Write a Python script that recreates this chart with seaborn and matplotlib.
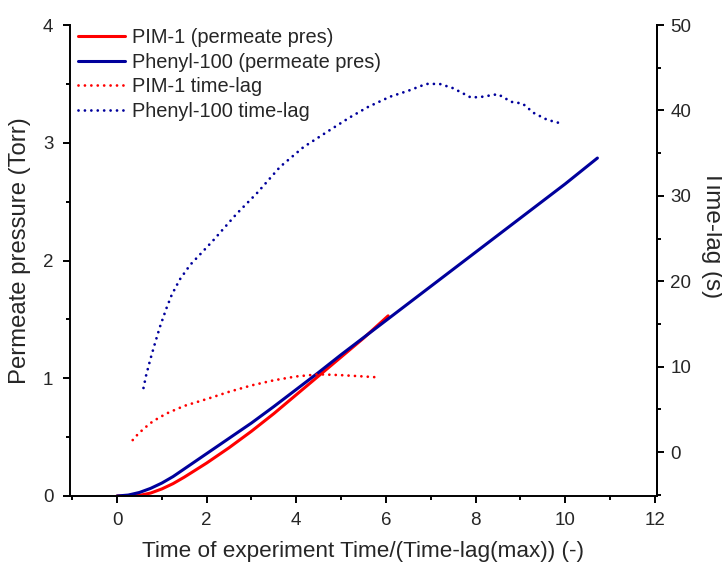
import matplotlib
matplotlib.use("Agg")
import matplotlib.pyplot as plt
import seaborn as sns
import pandas as pd
from matplotlib.ticker import MultipleLocator

# ---- data ----
pim_x = [0.0, 0.25, 0.5, 0.75, 1.0, 1.25, 1.5, 1.75, 2.0, 2.5, 3.0, 3.5, 4.0, 4.5, 5.0, 5.5, 6.05]
pim_p = [0.0, 0.0, 0.005, 0.025, 0.06, 0.105, 0.16, 0.22, 0.28, 0.41, 0.55, 0.70, 0.86, 1.02, 1.18, 1.34, 1.53]

phe_x = [0.0, 0.25, 0.5, 0.75, 1.0, 1.25, 1.5, 1.75, 2.0, 2.5, 3.0, 3.5, 4.0, 4.5, 5.0, 6.0, 7.0, 8.0, 9.0, 10.0, 10.72]
phe_p = [0.0, 0.008, 0.03, 0.065, 0.11, 0.165, 0.23, 0.295, 0.36, 0.49, 0.62, 0.76, 0.905, 1.05, 1.2, 1.49, 1.78, 2.07, 2.36, 2.65, 2.87]

pim_lag_x = [0.35, 0.45, 0.6, 0.8, 1.1, 1.5, 2.0, 2.5, 3.0, 3.5, 4.0, 4.5, 5.0, 5.5, 5.8]
pim_lag = [1.4, 2.0, 2.75, 3.6, 4.5, 5.4, 6.2, 7.05, 7.8, 8.4, 8.85, 9.1, 9.0, 8.85, 8.75]

phe_lag_x = [0.59, 0.65, 0.74, 0.85, 0.96, 1.1, 1.22, 1.4, 1.63, 1.9, 2.15, 2.67, 3.12, 3.64, 4.16,
             4.75, 5.2, 5.6, 6.09, 6.5, 6.9, 7.2, 7.5, 7.9, 8.15, 8.5, 8.8, 9.05, 9.3, 9.6, 9.96]
phe_lag = [7.5, 9.0, 10.8, 12.8, 14.7, 16.8, 18.4, 20.2, 21.9, 23.4, 24.8, 27.9, 30.3, 33.4, 35.7,
           37.7, 39.2, 40.4, 41.6, 42.3, 43.1, 43.1, 42.6, 41.5, 41.6, 41.9, 41.0, 40.8, 39.7, 38.9, 38.4]

labels = ["PIM-1 (permeate pres)", "Phenyl-100 (permeate pres)",
          "PIM-1 time-lag", "Phenyl-100 time-lag"]
x_ticks = [0, 2, 4, 6, 8, 10, 12]
y_ticks = [0, 1, 2, 3, 4]
y2_ticks = [0, 10, 20, 30, 40, 50]

RED = "#ff0000"
BLUE = "#00009c"

sns.set_theme(style="ticks")
plt.rcParams["font.family"] = ["Liberation Sans", "DejaVu Sans"]

fig = plt.figure(figsize=(7.22, 5.70), dpi=100)
ax = fig.add_axes([70 / 722, 1 - 496 / 570, (657 - 70) / 722, (496 - 25) / 570])
ax2 = ax.twinx()

df_pim = pd.DataFrame({"x": pim_x, "y": pim_p})
df_phe = pd.DataFrame({"x": phe_x, "y": phe_p})
df_pim_lag = pd.DataFrame({"x": pim_lag_x, "y": pim_lag})
df_phe_lag = pd.DataFrame({"x": phe_lag_x, "y": phe_lag})

sns.lineplot(data=df_pim, x="x", y="y", ax=ax, color=RED, linewidth=2.2,
             label=labels[0], legend=False)
sns.lineplot(data=df_phe, x="x", y="y", ax=ax, color=BLUE, linewidth=2.2,
             label=labels[1], legend=False)
sns.lineplot(data=df_pim_lag, x="x", y="y", ax=ax2, color=RED, linewidth=2.0,
             label=labels[2], legend=False)
sns.lineplot(data=df_phe_lag, x="x", y="y", ax=ax2, color=BLUE, linewidth=2.0,
             label=labels[3], legend=False)

for ln in ax2.lines:
    ln.set_linestyle((0, (0.01, 2.3)))
    ln.set_dash_capstyle("round")

ax.set_xlim(-1.05, 12.05)
ax.set_ylim(0, 4)
ax2.set_ylim(-5.15, 50)

ax.set_xticks(x_ticks)
ax.set_yticks(y_ticks)
ax2.set_yticks(y2_ticks)
ax.xaxis.set_minor_locator(MultipleLocator(1))
ax.yaxis.set_minor_locator(MultipleLocator(0.5))
ax2.yaxis.set_minor_locator(MultipleLocator(5))

for a in (ax, ax2):
    a.spines["top"].set_visible(False)
    for s in a.spines.values():
        s.set_linewidth(1.4)
        s.set_color("black")
    a.tick_params(which="major", length=5, width=1.4, labelsize=13.5, color="black",
                  direction="out")
    a.tick_params(which="minor", length=3, width=1.4, color="black", direction="out")
    a.grid(False)
ax.tick_params(axis="x", which="major", pad=6.5)
ax.tick_params(axis="y", which="major", pad=7)
ax2.tick_params(axis="y", which="major", pad=4.5)
ax2.spines["left"].set_visible(False)
ax2.spines["bottom"].set_visible(False)

ax.set_xlabel("Time of experiment Time/(Time-lag(max)) (-)", fontsize=16.2)
ax.set_ylabel("Permeate pressure (Torr)", fontsize=17.2)
ax2.set_ylabel("Time-lag (s)", fontsize=17.5, rotation=270, va="center", ha="center")
ax.xaxis.set_label_coords(0.50, -0.096)
ax.yaxis.set_label_coords(-0.066, 0.52)
ax2.yaxis.set_label_coords(1.094, 0.556)

handles = ax.lines[:2] + ax2.lines[:2]
leg = ax2.legend(handles, labels, loc="upper left", bbox_to_anchor=(0.014, 0.994),
                 frameon=False, fontsize=14.4, borderpad=0, borderaxespad=0,
                 handlelength=2.35, handletextpad=0.35, labelspacing=0.285)

fig.savefig("out.png", dpi=100, facecolor="white")
